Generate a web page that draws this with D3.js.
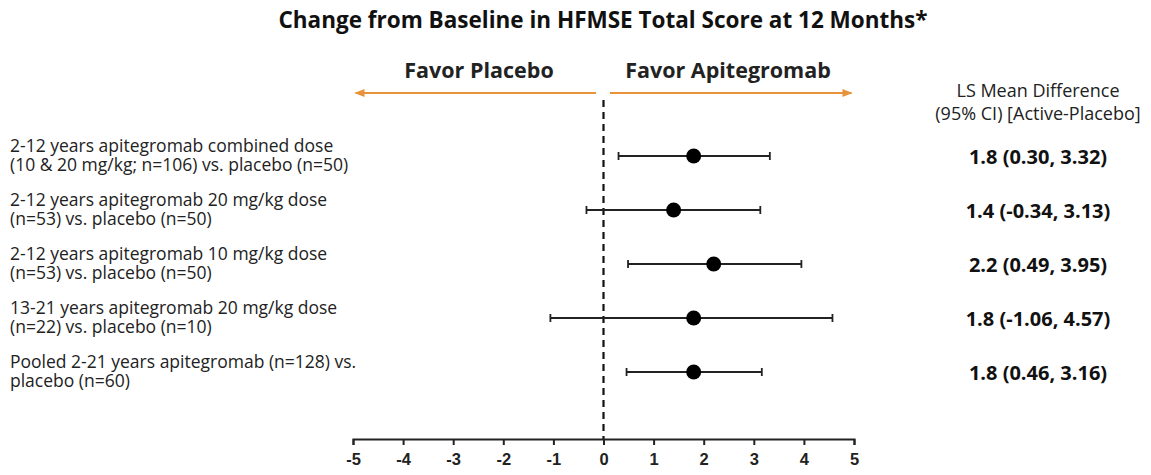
<!DOCTYPE html>
<html><head><meta charset="utf-8">
<script src="https://cdn.jsdelivr.net/npm/d3@7"></script>
<style>body{margin:0;background:#fff}svg{display:block}</style>
</head><body>
<svg id="c" width="1151" height="475"></svg>
<script>
const labels = [
  ["2-12 years apitegromab combined dose", "(10 & 20 mg/kg; n=106) vs. placebo (n=50)"],
  ["2-12 years apitegromab 20 mg/kg dose", "(n=53) vs. placebo (n=50)"],
  ["2-12 years apitegromab 10 mg/kg dose", "(n=53) vs. placebo (n=50)"],
  ["13-21 years apitegromab 20 mg/kg dose", "(n=22) vs. placebo (n=10)"],
  ["Pooled 2-21 years apitegromab (n=128) vs.", "placebo (n=60)"]
];
const est = [1.8, 1.4, 2.2, 1.8, 1.8];
const lower = [0.30, -0.34, 0.49, -1.06, 0.46];
const upper = [3.32, 3.13, 3.95, 4.57, 3.16];
const ciText = ["1.8 (0.30, 3.32)", "1.4 (-0.34, 3.13)", "2.2 (0.49, 3.95)", "1.8 (-1.06, 4.57)", "1.8 (0.46, 3.16)"];
const ticks = [-5,-4,-3,-2,-1,0,1,2,3,4,5];

const svg = d3.select("#c");
const font = "'Open Sans', 'Noto Sans', sans-serif";
const x = d3.scaleLinear().domain([-5,5]).range([353,854]);
const y = d3.scalePoint().domain(d3.range(labels.length)).range([156,372]);
const orange = "#E8923A";

svg.append("text").attr("x",603).attr("y",28).attr("text-anchor","middle")
  .attr("font-family",font).attr("font-weight","bold").attr("font-size",22.5).attr("fill","#111")
  .text("Change from Baseline in HFMSE Total Score at 12 Months*");

// favor labels
svg.append("text").attr("x",479).attr("y",78).attr("text-anchor","middle")
  .attr("font-family",font).attr("font-weight","bold").attr("font-size",21.5).attr("fill","#222").text("Favor Placebo");
svg.append("text").attr("x",728).attr("y",78).attr("text-anchor","middle")
  .attr("font-family",font).attr("font-weight","bold").attr("font-size",21.5).attr("fill","#222").text("Favor Apitegromab");

const defs = svg.append("defs");
defs.append("marker").attr("id","ah").attr("viewBox","0 0 10 10").attr("refX",9).attr("refY",5)
  .attr("markerWidth",10).attr("markerHeight",10).attr("markerUnits","userSpaceOnUse").attr("orient","auto-start-reverse")
  .append("path").attr("d","M0,1 L10,5 L0,9 Z").attr("fill",orange);
svg.append("line").attr("x1",x(-0.15)).attr("x2",x(-4.95)).attr("y1",93).attr("y2",93)
  .attr("stroke",orange).attr("stroke-width",2).attr("marker-end","url(#ah)");
svg.append("line").attr("x1",x(0.13)).attr("x2",x(4.95)).attr("y1",93).attr("y2",93)
  .attr("stroke",orange).attr("stroke-width",2).attr("marker-end","url(#ah)");

// right header
svg.append("text").attr("x",1038).attr("y",97).attr("text-anchor","middle")
  .attr("font-family",font).attr("font-size",18).attr("fill","#222").text("LS Mean Difference");
svg.append("text").attr("x",1038).attr("y",120).attr("text-anchor","middle")
  .attr("font-family",font).attr("font-size",18).attr("fill","#222").text("(95% CI) [Active-Placebo]");

// dashed zero line
svg.append("line").attr("x1",x(0)).attr("x2",x(0)).attr("y1",100).attr("y2",439)
  .attr("stroke","#111").attr("stroke-width",2.2).attr("stroke-dasharray","7,5");

// axis
const axis = d3.axisBottom(x).tickValues(ticks).tickSize(6).tickSizeOuter(6).tickFormat(d => String(d));
const ag = svg.append("g").attr("transform","translate(0,439)").call(axis);
ag.select(".domain").attr("stroke","#222").attr("stroke-width",2);
ag.selectAll(".tick line").attr("stroke","#222").attr("stroke-width",2);
ag.selectAll(".tick text").attr("font-family","Arial, 'Liberation Sans', sans-serif").attr("font-weight","bold")
  .attr("font-size",16.5).attr("fill","#222").attr("dy","1.05em");

// left labels
labels.forEach((l,i)=>{
  svg.append("text").attr("font-family",font).attr("font-size",17.5).attr("fill","#222")
    .attr("x",10).attr("y",y(i)-4.5).text(l[0]);
  svg.append("text").attr("font-family",font).attr("font-size",17.5).attr("fill","#222")
    .attr("x",10).attr("y",y(i)+14.5).text(l[1]);
});

// CI lines
const rows = svg.append("g");
rows.selectAll("line.ci").data(est).join("line").attr("class","ci")
  .attr("x1",(d,i)=>x(lower[i])).attr("x2",(d,i)=>x(upper[i]))
  .attr("y1",(d,i)=>y(i)).attr("y2",(d,i)=>y(i)).attr("stroke","#222").attr("stroke-width",1.8);
rows.selectAll("line.cl").data(est).join("line").attr("class","cl")
  .attr("x1",(d,i)=>x(lower[i])).attr("x2",(d,i)=>x(lower[i]))
  .attr("y1",(d,i)=>y(i)-4).attr("y2",(d,i)=>y(i)+4).attr("stroke","#222").attr("stroke-width",1.8);
rows.selectAll("line.cu").data(est).join("line").attr("class","cu")
  .attr("x1",(d,i)=>x(upper[i])).attr("x2",(d,i)=>x(upper[i]))
  .attr("y1",(d,i)=>y(i)-4).attr("y2",(d,i)=>y(i)+4).attr("stroke","#222").attr("stroke-width",1.8);
rows.selectAll("circle").data(est).join("circle")
  .attr("cx",d=>x(d)).attr("cy",(d,i)=>y(i)).attr("r",7.5).attr("fill","#000");

// right values
svg.selectAll("text.ci").data(ciText).join("text").attr("class","ci")
  .attr("x",1038).attr("y",(d,i)=>y(i)+8).attr("text-anchor","middle")
  .attr("font-family",font).attr("font-weight","bold").attr("font-size",20).attr("fill","#111").text(d=>d);
</script>
</body></html>
